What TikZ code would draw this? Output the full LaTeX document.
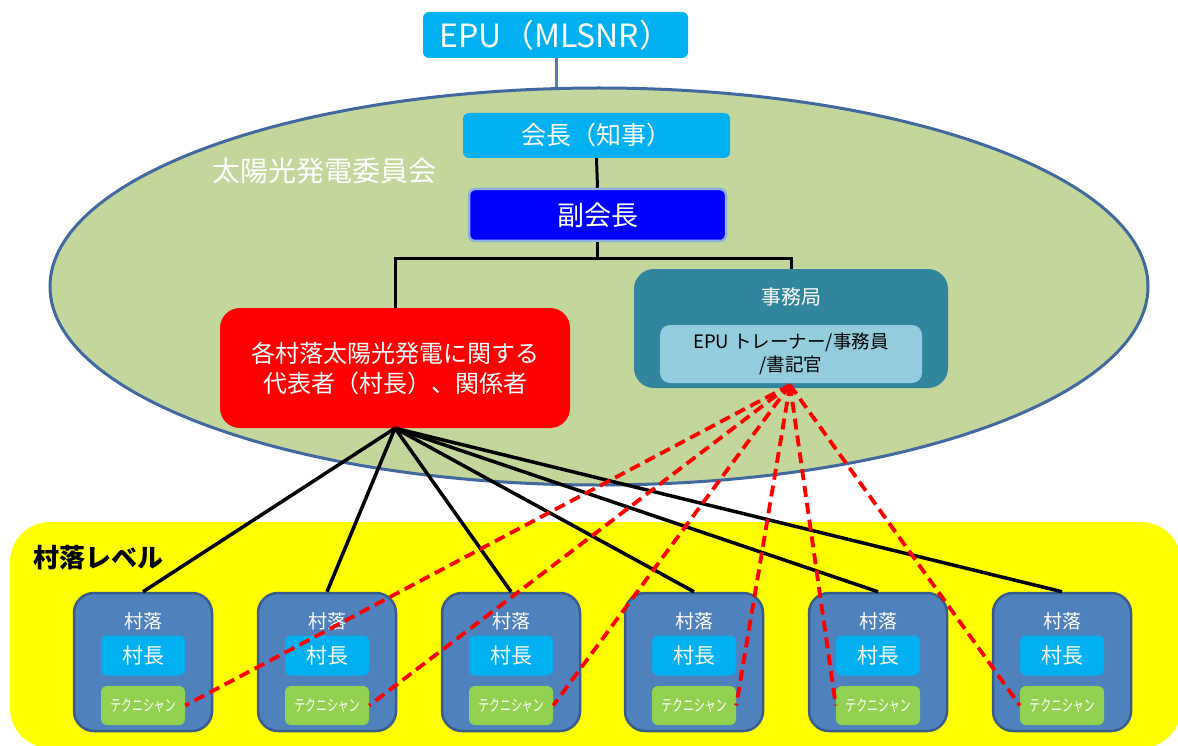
\documentclass[tikz,border=0pt]{standalone}
\usepackage{fontspec}
\usepackage{graphicx}
\setmainfont{Noto Sans CJK JP}
\definecolor{ccyan}{RGB}{0,176,240}
\definecolor{cblue}{RGB}{0,0,255}
\definecolor{cvborder}{RGB}{141,179,226}
\definecolor{cleaf}{RGB}{195,214,155}
\definecolor{cedge}{RGB}{65,105,160}
\definecolor{cteal}{RGB}{49,133,156}
\definecolor{cpale}{RGB}{147,205,221}
\definecolor{cvill}{RGB}{79,129,189}
\definecolor{cvillb}{RGB}{56,93,138}
\definecolor{cgrass}{RGB}{146,208,80}
\definecolor{cband}{RGB}{255,255,0}
\tikzset{orgbox/.style={rounded corners=6pt,text=white,inner sep=0pt,align=center},
         tree/.style={black,line width=3pt},
         link/.style={black,line width=3.5pt},
         reddash/.style={red,line width=3.8pt,dash pattern=on 11pt off 6pt}}
\newcommand{\fs}[1]{\fontsize{#1}{1.25\dimexpr#1pt\relax}\selectfont}

\begin{document}
\begin{tikzpicture}[x=1pt,y=-1pt]
    \useasboundingbox (0,0) rectangle (1178,746);
    % village level band
    \fill[cband,rounded corners=40pt] (10,522) rectangle (1181,748);
    \node[anchor=west,font=\fs{26}\bfseries] (lvl) at (30,558) {村落レベル};
    % committee
    \draw[cvill,line width=3pt] (556,58) -- (556,90);
    \draw[cedge,line width=3pt,fill=cleaf] (599,286.5) ellipse (549 and 198.5);
    \node[text=white,font=\fs{28}] (comm) at (324,171) {太陽光発電委員会};
    \node[orgbox,fill=ccyan,minimum width=265pt,minimum height=46pt,font=\fs{32}] (epu) at (555.5,35) {EPU（MLSNR）};
    \node[orgbox,fill=ccyan,minimum width=267pt,minimum height=45pt,font=\fs{25}] (chair) at (596.5,135.5) {会長（知事）};
    \node[orgbox,fill=cblue,draw=cvborder,line width=2.5pt,minimum width=257pt,minimum height=52pt,font=\fs{27}] (vice) at (597.5,215) {副会長};
    \node[orgbox,fill=red,rounded corners=20pt,minimum width=350pt,minimum height=120pt,font=\fs{24}] (rep) at (395,368) {各村落太陽光発電に関する\\代表者（村長）、関係者};
    \node[orgbox,fill=cteal,rounded corners=20pt,minimum width=314pt,minimum height=119pt] (sec) at (791,328.5) {};
    \node[text=white,font=\fs{20}] (seclbl) at (791,297) {事務局};
    \node[orgbox,fill=cpale,text=black,rounded corners=10pt,minimum width=262pt,minimum height=58pt,font=\fs{18.5}] (staff) at (791,354) {EPU トレーナー/事務員\\/書記官};
    \coordinate (hub) at (790,385);
    % tree
    \draw[tree] (chair.south) -- (vice.north);
    \draw[tree] (vice.south) -- ++(0,16) coordinate (fork);
    \draw[tree] (fork) -| (rep.north);
    \draw[tree] (fork) -| (sec.north);
    % villages
    \foreach \i/\x in {1/143,2/327,3/511,4/694,5/878,6/1062} {
      \node[orgbox,fill=cvill,draw=cvillb,line width=2.5pt,rounded corners=20pt,minimum width=138pt,minimum height=138pt] (vil-\i) at (\x,662) {};
      \node[text=white,font=\fs{19}] (vlbl-\i) at (\x,621) {村落};
      \node[orgbox,fill=ccyan,minimum width=84pt,minimum height=40pt,font=\fs{21}] (head-\i) at (\x,655.5) {村長};
      \node[orgbox,fill=cgrass,minimum width=84pt,minimum height=39pt] (tech-\i) at (\x,705.5) {\scalebox{0.68}[1]{\fs{16}テクニシャン}};
      \draw[link] (rep.south) -- (vil-\i.north);
    }
    % secretariat to technicians
    \foreach \i in {1,2,3,4} \draw[reddash] (hub) -- (tech-\i.east);
    \foreach \i in {5,6} \draw[reddash] (hub) -- (tech-\i.west);
\end{tikzpicture}
\end{document}
